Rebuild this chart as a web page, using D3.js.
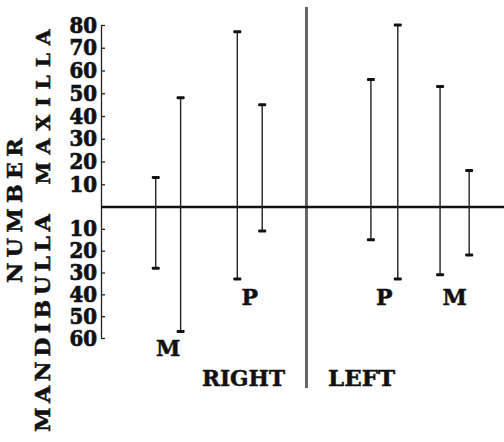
<!DOCTYPE html>
<html>
<head>
<meta charset="utf-8">
<script src="https://cdn.jsdelivr.net/npm/d3@7"></script>
<style>
  body { margin: 0; background: #fff; }
  text { fill: #111; font-family: "DejaVu Serif", serif; font-weight: bold; stroke: #111; stroke-width: 0.5px; }
  .axis text { font-family: "DejaVu Serif Condensed", "DejaVu Serif", serif; font-stretch: condensed; font-size: 22px; stroke-width: 0.7px; }
</style>
</head>
<body>
<div id="chart"></div>
<script>
// position of each tooth along the jaw (negative = right side, positive = left side)
const positions = [-6.0, -5.0, -2.72, -1.72, 2.65, 3.73, 5.43, 6.6];
// maxilla (upper) and mandibula (lower) extents
const upper = [13, 48, 77, 45, 56, 80, 53, 16];
const lower = [28, 57, 33, 11, 15, 33, 31, 22];
const pairLabels = ["M", "P", "P", "M"];
const tickUpper = [80, 70, 60, 50, 40, 30, 20, 10];
const tickLower = [10, 20, 30, 40, 50, 60];
const sideLabels = ["RIGHT", "LEFT"];

const width = 504;
const height = 442;
const axisX = 101;

const svg = d3.select("#chart").append("svg")
  .attr("width", width)
  .attr("height", height);

//------------------------------------------------------------- scales
let x = d3.scaleLinear()
  .domain([-8.2, 8])
  .range([axisX, width]);

let y = d3.scaleLinear() // upper and lower halves are drawn at slightly different steps
  .domain([-60, 0, 80])
  .range([338, 207, 25]);

//------------------------------------------------------------- axis
let ticks = tickUpper.concat(tickLower.map(d => -d));
let yAxis = d3.axisLeft(y)
  .tickValues(ticks)
  .tickFormat(d => Math.abs(d))
  .tickSizeInner(-4)
  .tickSizeOuter(0)
  .tickPadding(4);

let axisG = svg.append("g")
  .attr("class", "axis")
  .attr("transform", "translate(" + axisX + ",0)")
  .call(yAxis);
axisG.select(".domain").attr("stroke", "#222").attr("stroke-width", 1.3);
axisG.selectAll(".tick line").attr("stroke", "#222").attr("stroke-width", 1.3);
axisG.selectAll(".tick text").attr("fill", "#111").attr("font-size", null).attr("font-family", null);

//------------------------------------------------------------- divider & zero line
svg.append("line")
  .attr("x1", x(0) + 1.5).attr("x2", x(0) + 1.5)
  .attr("y1", 7).attr("y2", 388)
  .attr("stroke", "#666")
  .attr("stroke-width", 3);

svg.append("line")
  .attr("x1", axisX).attr("x2", width)
  .attr("y1", y(0)).attr("y2", y(0))
  .attr("stroke", "#111")
  .attr("stroke-width", 2.5);

//------------------------------------------------------------- range bars
const bars = positions.map((p, i) => ({ p: p, hi: upper[i], lo: -lower[i] }));

svg.selectAll(".bar")
  .data(bars)
  .enter().append("line")
  .attr("class", "bar")
  .attr("x1", d => x(d.p)).attr("x2", d => x(d.p))
  .attr("y1", d => y(d.hi)).attr("y2", d => y(d.lo))
  .attr("stroke", "#222")
  .attr("stroke-width", 1.4);

let caps = bars.flatMap(d => [{ p: d.p, v: d.hi }, { p: d.p, v: d.lo }]);
svg.selectAll(".cap")
  .data(caps)
  .enter().append("rect")
  .attr("class", "cap")
  .attr("x", d => x(d.p) - 4)
  .attr("y", d => y(d.v) - 1.5)
  .attr("width", 8)
  .attr("height", 3)
  .attr("rx", 1)
  .attr("fill", "#111");

//------------------------------------------------------------- text
const pairY = [356, 305, 305, 305];
pairLabels.forEach((t, i) => {
  let cx = (x(positions[i * 2]) + x(positions[i * 2 + 1])) / 2;
  svg.append("text")
    .attr("x", cx)
    .attr("y", pairY[i])
    .attr("text-anchor", "middle")
    .attr("font-size", 22)
    .text(t);
});

svg.append("text")
  .attr("x", 202).attr("y", 386)
  .attr("font-size", 22)
  .attr("textLength", 83)
  .attr("lengthAdjust", "spacingAndGlyphs")
  .text(sideLabels[0]);

svg.append("text")
  .attr("x", 328).attr("y", 386)
  .attr("font-size", 22)
  .attr("textLength", 67)
  .attr("lengthAdjust", "spacingAndGlyphs")
  .text(sideLabels[1]);

// rotated labels on the left
const leftLabels = [
  { t: "NUMBER", x: 22, y: 208, len: 150, size: 21, gap: 5 },
  { t: "MAXILLA", x: 50, y: 103, len: 163, size: 18, gap: 7 },
  { t: "MANDIBULLA", x: 50, y: 321, len: 222, size: 20, gap: 4 }
];
leftLabels.forEach(l => {
  svg.append("text")
    .attr("transform", "translate(" + l.x + "," + l.y + ") rotate(-90)")
    .attr("text-anchor", "middle")
    .attr("font-size", l.size)
    .attr("letter-spacing", l.gap)
    .attr("textLength", l.len)
    .attr("lengthAdjust", "spacingAndGlyphs")
    .text(l.t);
});
</script>
</body>
</html>
